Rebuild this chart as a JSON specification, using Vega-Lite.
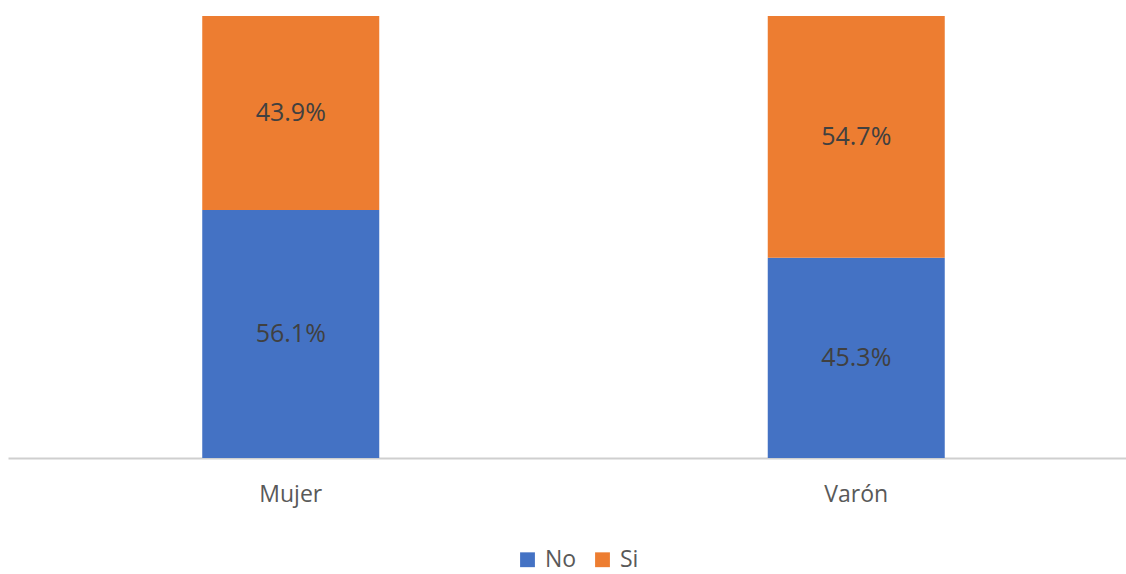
{
  "$schema": "https://vega.github.io/schema/vega-lite/v6.json",
  "autosize": {"type": "none"},
  "width": 1131,
  "height": 442,
  "padding": {"left": 8, "top": 16, "right": 0, "bottom": 116},
  "background": "white",
  "config": {"view": {"stroke": null}, "font": "Open Sans"},
  "data": {"values": [
    {"sexo": "Mujer", "respuesta": "No", "valor": 0.561, "orden": 1},
    {"sexo": "Mujer", "respuesta": "Si", "valor": 0.439, "orden": 2},
    {"sexo": "Varón", "respuesta": "No", "valor": 0.453, "orden": 1},
    {"sexo": "Varón", "respuesta": "Si", "valor": 0.547, "orden": 2}
  ]},
  "transform": [
    {"stack": "valor", "groupby": ["sexo"], "sort": [{"field": "orden"}], "as": ["y0", "y1"]},
    {"calculate": "(datum.y0 + datum.y1) / 2", "as": "ymid"}
  ],
  "encoding": {
    "x": {
      "field": "sexo", "type": "nominal", "title": null,
      "scale": {"paddingInner": 0.687, "paddingOuter": 0.3435},
      "axis": {"labelAngle": 0, "labelFontSize": 23, "labelColor": "#595959", "labelPadding": 25, "ticks": false, "domainColor": "#cfcfcf", "domainWidth": 2}
    }
  },
  "layer": [
    {
      "mark": {"type": "bar"},
      "encoding": {
        "y": {"field": "y0", "type": "quantitative", "scale": {"domain": [0, 1]}, "axis": null},
        "y2": {"field": "y1"},
        "color": {
          "field": "respuesta", "type": "nominal", "title": null,
          "scale": {"domain": ["No", "Si"], "range": ["#4472C4", "#ED7D31"]},
          "legend": {"orient": "none", "legendX": 508, "legendY": 532, "direction": "horizontal", "symbolType": "square", "symbolSize": 220, "symbolStrokeWidth": 0, "labelFontSize": 23, "labelColor": "#595959", "columnPadding": 14, "labelOffset": 6}
        }
      }
    },
    {
      "mark": {"type": "text", "fontSize": 25, "color": "#404040", "baseline": "middle"},
      "encoding": {
        "y": {"field": "ymid", "type": "quantitative", "scale": {"domain": [0, 1]}},
        "text": {"field": "valor", "type": "quantitative", "format": ".1%"}
      }
    }
  ]
}
